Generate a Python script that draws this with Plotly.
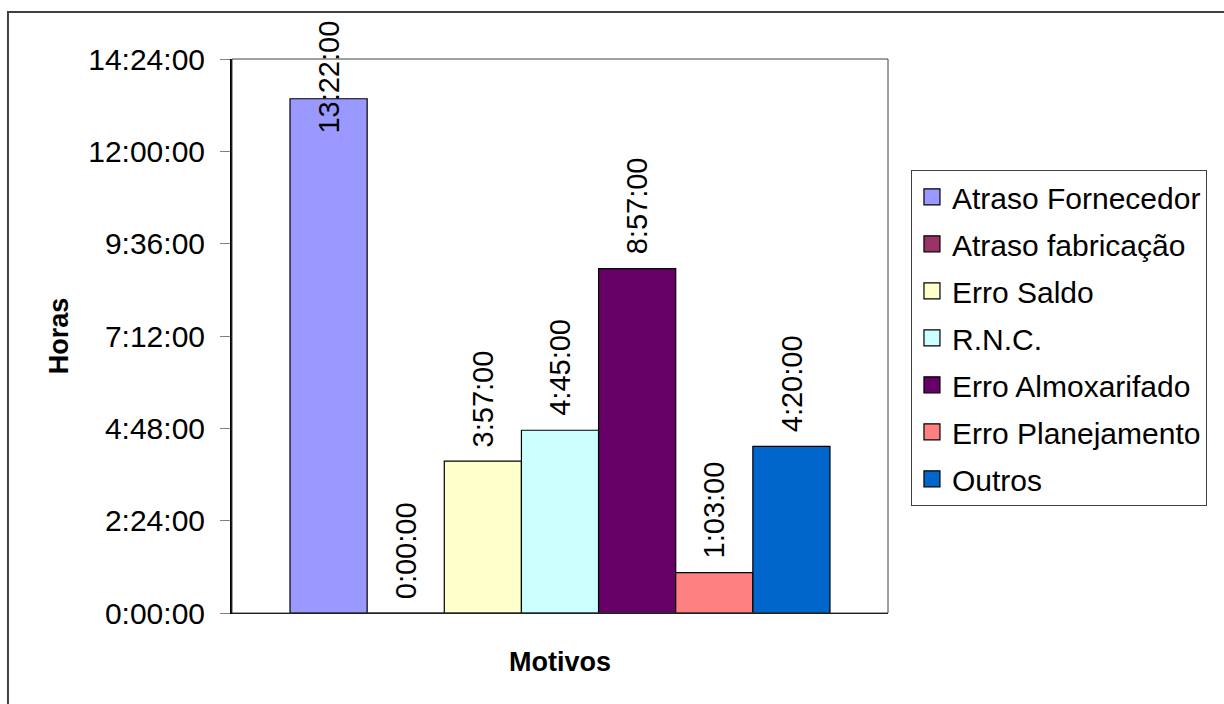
import plotly.graph_objects as go

# ---- data ----
series = ["Atraso Fornecedor", "Atraso fabricação", "Erro Saldo", "R.N.C.",
          "Erro Almoxarifado", "Erro Planejamento", "Outros"]
durations = ["13:22:00", "0:00:00", "3:57:00", "4:45:00", "8:57:00", "1:03:00", "4:20:00"]
colors = ["#9999FF", "#993366", "#FFFFCC", "#CCFFFF", "#660066", "#FF8080", "#0066CC"]
tick_hours = [0, 2.4, 4.8, 7.2, 9.6, 12.0, 14.4]


def to_hours(s):
    h, m, sec = (int(p) for p in s.split(":"))
    return h + m / 60 + sec / 3600


def fmt(h):
    total = int(round(h * 3600))
    return f"{total // 3600}:{(total % 3600) // 60:02d}:{total % 60:02d}"


values = [to_hours(d) for d in durations]

FONT = "Liberation Sans, Arial, sans-serif"
FS = 29
FS_BIG = 30

fig = go.Figure()
for i, (name, v, c) in enumerate(zip(series, values, colors)):
    fig.add_trace(go.Bar(
        x=[i], y=[v], width=1, name=name, showlegend=False,
        marker=dict(color=c, line=dict(color="black", width=1.2)),
        hoverinfo="name+y",
    ))
    # legend entry
    fig.add_trace(go.Scatter(
        x=[None], y=[None], mode="markers", name=name, legendgroup=name,
        marker=dict(symbol="square", size=18, color=c, line=dict(color="black", width=1.2)),
    ))

# data labels (Excel keeps labels inside the chart area)
label_cap = 12.1
for i, (v, d) in enumerate(zip(values, durations)):
    fig.add_annotation(
        x=i, y=min(v, label_cap), xref="x", yref="y", text=d, showarrow=False,
        textangle=-90, yanchor="bottom", xanchor="center", yshift=12,
        font=dict(family=FONT, size=FS, color="black"),
    )

# outer chart border
fig.add_shape(type="rect", xref="paper", yref="paper",
              x0=-0.3415, x1=1.6, y0=-0.5, y1=1.0848,
              line=dict(color="#404040", width=2), layer="below")
# plot area border
fig.add_shape(type="rect", xref="paper", yref="paper",
              x0=0, x1=1, y0=0, y1=1,
              line=dict(color="#404040", width=1), layer="above")

fig.update_layout(
    width=1224, height=704,
    margin=dict(l=232, r=336, t=59, b=91),
    paper_bgcolor="white", plot_bgcolor="white",
    barmode="overlay",
    font=dict(family=FONT, size=FS, color="black"),
    legend=dict(
        x=1.035, y=0.80, xanchor="left", yanchor="top",
        bordercolor="#404040", borderwidth=1, bgcolor="white",
        font=dict(family=FONT, size=FS_BIG, color="black"),
        tracegroupgap=5, itemsizing="trace",
    ),
    xaxis=dict(
        range=[-1.252, 7.252], showticklabels=False, ticks="",
        showgrid=False, zeroline=False, showline=True, linecolor="black", linewidth=1,
        title=dict(text="<b>Motivos</b>", font=dict(family=FONT, size=27), standoff=39),
        fixedrange=True,
    ),
    yaxis=dict(
        range=[0, 14.4], tickvals=tick_hours, ticktext=[fmt(t) for t in tick_hours],
        ticks="outside", ticklen=10, tickcolor="#808080", tickwidth=1,
        ticklabelstandoff=9,
        showgrid=False, zeroline=False, showline=True, linecolor="black", linewidth=2,
        tickfont=dict(family=FONT, size=FS_BIG, color="black"),
        title=dict(text="<b>Horas</b>", font=dict(family=FONT, size=27), standoff=12),
        fixedrange=True,
    ),
)

fig.write_html("out.html")
